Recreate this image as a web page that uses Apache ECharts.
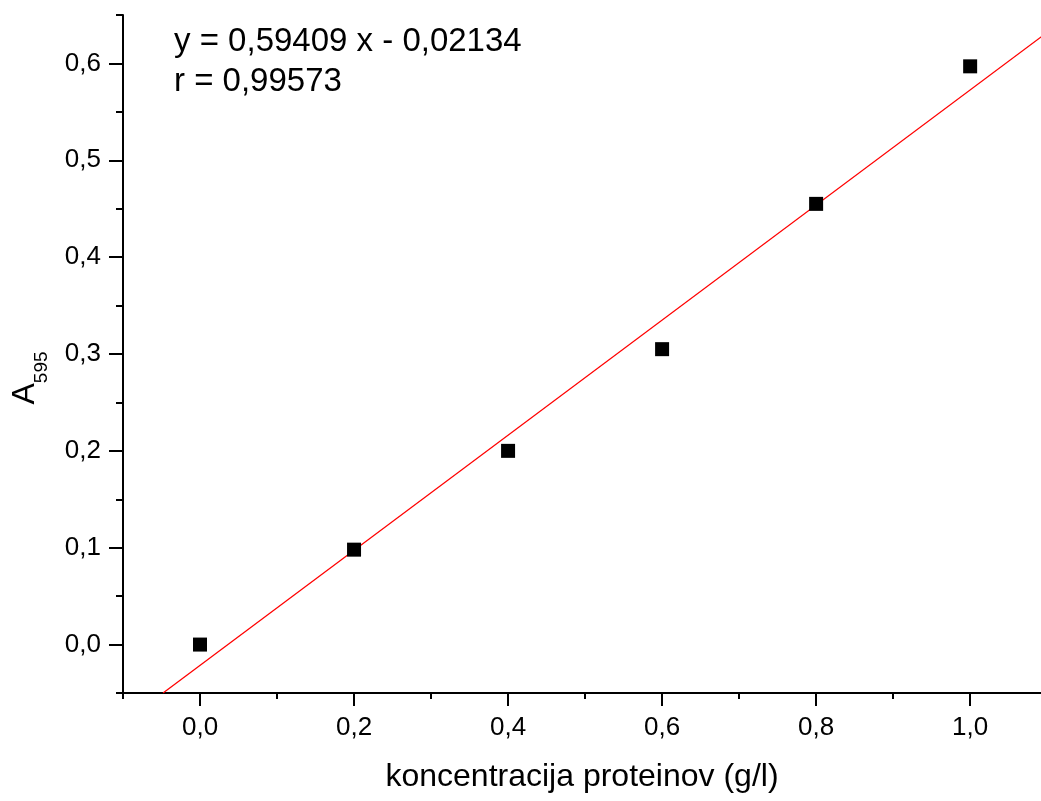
<!DOCTYPE html>
<html>
<head>
<meta charset="utf-8">
<script src="https://cdn.jsdelivr.net/npm/echarts@6/dist/echarts.min.js"></script>
<style>
  html, body { margin: 0; padding: 0; background: #fff; }
  #chart1 { width: 1041px; height: 801px; }
</style>
</head>
<body>
<div id="chart1"></div>
<script>
// meritve: koncentracija proteinov (g/l) in absorbanca pri 595 nm
var conc = [0.0, 0.2, 0.4, 0.6, 0.8, 1.0]
var absorb = [0.0, 0.098, 0.2, 0.305, 0.455, 0.597]

// premica (linearna regresija), krajisci odcitani s slike
var fitX = [-0.048, 1.1]
var fitY = [-0.05, 0.632]

// oznake na oseh
var xMajor = [0.0, 0.2, 0.4, 0.6, 0.8, 1.0]
var xMinor = [-0.1, 0.1, 0.3, 0.5, 0.7, 0.9]
var yMajor = [0.0, 0.1, 0.2, 0.3, 0.4, 0.5, 0.6]
var yMinor = [-0.05, 0.05, 0.15, 0.25, 0.35, 0.45, 0.55, 0.65]

var eqText = ['y = 0,59409 x - 0,02134', 'r = 0,99573']

var font = 'Liberation Sans, Arial, sans-serif'
var fmt = function (v) {
  return v.toFixed(1).replace('.', ',')
}

var myChart1 = echarts.init(document.getElementById('chart1'))

var points = conc.map(function (x, i) { return [x, absorb[i]] })
var line = fitX.map(function (x, i) { return [x, fitY[i]] })

// desni rob slike odreze os malo pred 1,1
var xMax = 1.092

myChart1.setOption({
  animation: false,
  backgroundColor: '#fff',
  grid: { left: 123, top: 15, right: 0, bottom: 108 },
  xAxis: [
    {
      type: 'value',
      min: -0.1,
      max: xMax,
      position: 'bottom',
      name: 'koncentracija proteinov (g/l)',
      nameLocation: 'middle',
      nameGap: 68,
      nameTextStyle: { fontFamily: font, fontSize: 32, color: '#000' },
      axisLine: { show: true, onZero: false, lineStyle: { color: '#000', width: 2 } },
      axisTick: { show: true, length: 13, lineStyle: { color: '#000', width: 2 }, customValues: xMajor },
      axisLabel: { show: true, margin: 22, fontFamily: font, fontSize: 26, color: '#000', customValues: xMajor, formatter: fmt },
      splitLine: { show: false }
    },
    {
      type: 'value',
      min: -0.1,
      max: xMax,
      position: 'bottom',
      axisLine: { show: false, onZero: false },
      axisTick: { show: true, length: 6, lineStyle: { color: '#000', width: 2 }, customValues: xMinor },
      axisLabel: { show: false },
      splitLine: { show: false }
    }
  ],
  yAxis: [
    {
      type: 'value',
      min: -0.05,
      max: 0.65,
      position: 'left',
      name: '{a|A}{s|595}',
      nameLocation: 'middle',
      nameGap: 72,
      nameRotate: 90,
      nameTextStyle: {
        fontFamily: font,
        color: '#000',
        padding: [0, 48, 0, 0],
        rich: {
          a: { fontFamily: font, fontSize: 32, color: '#000', verticalAlign: 'bottom', padding: [0, 0, 10, 0] },
          s: { fontFamily: font, fontSize: 19, color: '#000', verticalAlign: 'bottom' }
        }
      },
      axisLine: { show: true, onZero: false, lineStyle: { color: '#000', width: 2 } },
      axisTick: { show: true, length: 14, lineStyle: { color: '#000', width: 2 }, customValues: yMajor },
      axisLabel: { show: true, margin: 22, fontFamily: font, fontSize: 26, color: '#000', customValues: yMajor, formatter: fmt },
      splitLine: { show: false }
    },
    {
      type: 'value',
      min: -0.05,
      max: 0.65,
      position: 'left',
      axisLine: { show: false, onZero: false },
      axisTick: { show: true, length: 7, lineStyle: { color: '#000', width: 2 }, customValues: yMinor },
      axisLabel: { show: false },
      splitLine: { show: false }
    }
  ],
  graphic: [
    {
      type: 'text',
      left: 174,
      top: 22,
      style: {
        text: eqText.join('\n'),
        fontFamily: font,
        fontSize: 33,
        lineHeight: 40,
        fill: '#000'
      }
    }
  ],
  series: [
    {
      name: 'fit',
      type: 'line',
      data: line,
      showSymbol: false,
      symbol: 'none',
      clip: true,
      lineStyle: { color: '#ff0000', width: 1.3 },
      z: 2
    },
    {
      name: 'meritve',
      type: 'scatter',
      data: points,
      symbol: 'rect',
      symbolSize: 14,
      itemStyle: { color: '#000', opacity: 1 },
      z: 3
    }
  ]
})
</script>
</body>
</html>
